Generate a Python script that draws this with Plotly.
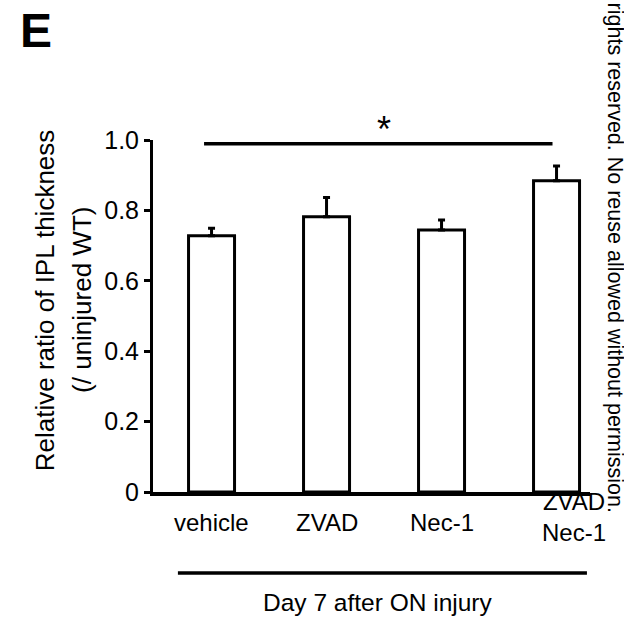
import plotly.graph_objects as go

categories = ["vehicle", "ZVAD", "Nec-1", "ZVAD+Nec-1"]
cat_labels = ["vehicle", "ZVAD", "Nec-1", "ZVAD<br>Nec-1"]
values = [0.728, 0.782, 0.744, 0.884]
errors = [0.021, 0.055, 0.029, 0.042]
ytick_vals = [0, 0.2, 0.4, 0.6, 0.8, 1.0]
ytick_text = ["0", "0.2", "0.4", "0.6", "0.8", "1.0"]

FONT = "Liberation Sans, Arial, Helvetica, sans-serif"

fig = go.Figure()
fig.add_trace(go.Bar(
    x=categories, y=values, width=0.4,
    marker=dict(color="white", line=dict(color="black", width=3)),
    error_y=dict(type="data", array=errors, arrayminus=[0] * len(errors),
                 symmetric=False, color="black", thickness=3, width=3.5),
    showlegend=False,
))

# category labels
xshifts = [0, 0, 0, 17]
yvals = [-0.088, -0.088, -0.088, -0.07]
for c, lab, xs, yv in zip(categories, cat_labels, xshifts, yvals):
    fig.add_annotation(x=c, y=yv, xref="x", yref="paper", text=lab, showarrow=False,
                       xshift=xs, xanchor="center", yanchor="middle",
                       font=dict(family=FONT, size=24, color="black"))

# significance line and star
fig.add_shape(type="line", xref="x", yref="paper", x0=-0.065, x1=2.965, y0=0.989, y1=0.989,
              line=dict(color="black", width=3.5))
fig.add_annotation(x=1.5, y=1.03, xref="x", yref="paper", text="*", showarrow=False,
                   xanchor="center", yanchor="middle",
                   font=dict(family=FONT, size=36, color="black"))

# group line and label
fig.add_shape(type="line", xref="paper", yref="paper", x0=0.057, x1=0.993, y0=-0.230, y1=-0.230,
              line=dict(color="black", width=3.5))
fig.add_annotation(x=0.513, y=-0.3125, xref="paper", yref="paper", text="Day 7 after ON injury",
                   showarrow=False, xanchor="center", yanchor="middle",
                   font=dict(family=FONT, size=24.5, color="black"))

# y-axis title (two lines)
fig.add_annotation(x=-0.247, y=0.545, xref="paper", yref="paper",
                   text="Relative ratio of IPL thickness", textangle=-90, showarrow=False,
                   xanchor="center", yanchor="middle",
                   font=dict(family=FONT, size=26, color="black"))
fig.add_annotation(x=-0.163, y=0.545, xref="paper", yref="paper",
                   text="(/ uninjured WT)", textangle=-90, showarrow=False,
                   xanchor="center", yanchor="middle",
                   font=dict(family=FONT, size=26, color="black"))

# panel letter
fig.add_annotation(x=-0.268, y=1.3125, xref="paper", yref="paper", text="<b>E</b>",
                   showarrow=False, xanchor="center", yanchor="middle",
                   font=dict(family=FONT, size=48, color="black"))

# copyright text
fig.add_annotation(x=1.058, y=1.395, xref="paper", yref="paper",
                   text="rights reserved. No reuse allowed without permission.",
                   textangle=90, showarrow=False, xanchor="center", yanchor="top",
                   font=dict(family=FONT, size=21.5, color="black"))

fig.update_layout(
    width=624, height=618,
    margin=dict(l=153, r=34, t=140, b=126),
    paper_bgcolor="white", plot_bgcolor="white",
    bargap=0.6,
    xaxis=dict(range=[-0.509, 3.291], showline=True, linecolor="black", linewidth=4,
               showticklabels=False, ticks="", showgrid=False, zeroline=False),
    yaxis=dict(range=[0, 1.0], showline=True, linecolor="black", linewidth=3,
               ticks="outside", ticklen=6, tickwidth=3, tickcolor="black",
               tickvals=ytick_vals, ticktext=ytick_text,
               tickfont=dict(family=FONT, size=25, color="black"),
               showgrid=False, zeroline=False),
)

fig.write_html("out.html")
